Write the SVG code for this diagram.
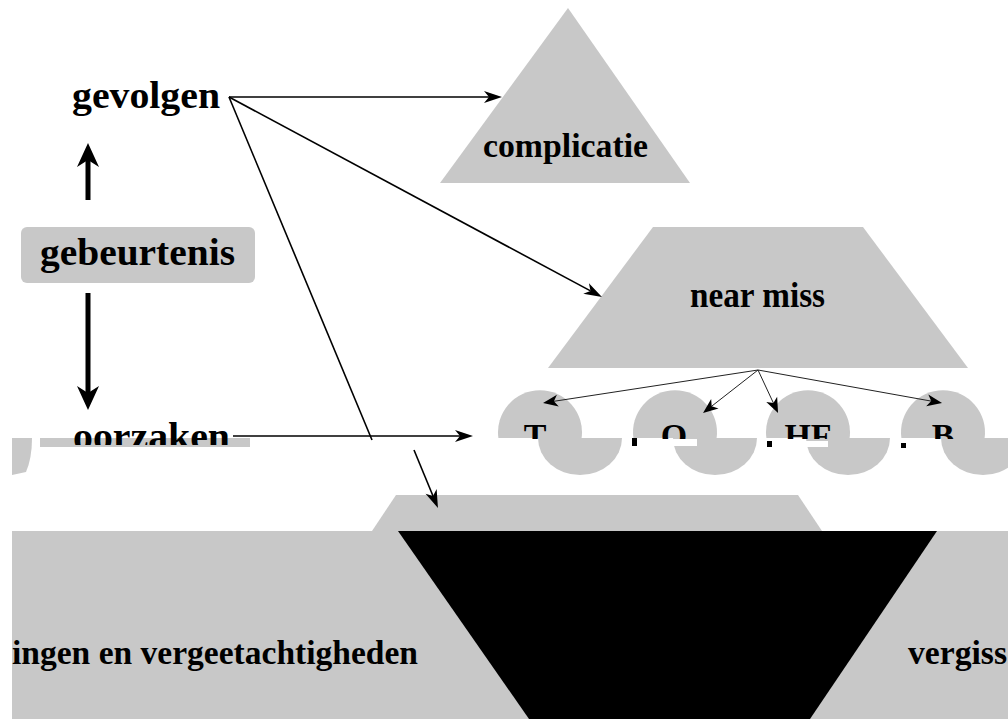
<svg xmlns="http://www.w3.org/2000/svg" width="1008" height="719" viewBox="0 0 1008 719">
<style>
.lbl{font-family:"Liberation Serif","Times New Roman",serif;font-weight:bold;fill:#000}
.shape{fill:#c8c8c8}
.thick{stroke:#000;stroke-width:5;fill:none}
.mid{stroke:#000;stroke-width:1.6;fill:none}
.thin{stroke:#222;stroke-width:1;fill:none}
</style>
<defs>
<marker id="hThick" markerUnits="userSpaceOnUse" orient="auto" refX="7" refY="0" markerWidth="24" markerHeight="22" overflow="visible">
<path d="M24,0 L0,-11 L7,0 L0,11 Z" fill="#000"/>
</marker>
<marker id="hMid" markerUnits="userSpaceOnUse" orient="auto" refX="5" refY="0" markerWidth="18" markerHeight="12" overflow="visible">
<path d="M18,0 L0,-6 L5,0 L0,6 Z" fill="#000"/>
</marker>
<marker id="hThin" markerUnits="userSpaceOnUse" orient="auto" refX="4" refY="0" markerWidth="15" markerHeight="12" overflow="visible">
<path d="M15,0 L0,-6 L4,0 L0,6 Z" fill="#000"/>
</marker>
<clipPath id="cutTop"><rect x="0" y="0" width="1008" height="439"/></clipPath>
<clipPath id="cutOorz"><rect x="0" y="0" width="1008" height="445"/></clipPath>
</defs>

<g id="bottom-band">
<path class="shape" d="M396,495 L798,495 L822,531 L372,531 Z"/>
<rect class="shape" x="12" y="531" width="996" height="188"/>
<path d="M398,531 L937,531 L810,719 L529,719 Z" fill="#000"/>
<text class="lbl" x="12" y="664" font-size="34" textLength="406" lengthAdjust="spacingAndGlyphs">ingen en vergeetachtigheden</text>
<text class="lbl" x="908" y="664" font-size="34" textLength="99" lengthAdjust="spacingAndGlyphs">vergiss</text>
</g>

<g id="complicatie">
<path class="shape" d="M568,8 L690,183 L440,183 Z"/>
<text class="lbl" x="483" y="157" font-size="34" textLength="165" lengthAdjust="spacingAndGlyphs">complicatie</text>
</g>

<g id="near-miss">
<path class="shape" d="M653,227 L863,227 L968,368 L548,368 Z"/>
<text class="lbl" x="690" y="307" font-size="35" textLength="135" lengthAdjust="spacingAndGlyphs">near miss</text>
</g>

<g id="gevolgen">
<text class="lbl" x="72" y="108" font-size="37" textLength="148" lengthAdjust="spacingAndGlyphs">gevolgen</text>
</g>

<g id="gebeurtenis">
<rect class="shape" x="21" y="227" width="234" height="56" rx="6"/>
<text class="lbl" x="40" y="265" font-size="37" textLength="195" lengthAdjust="spacingAndGlyphs">gebeurtenis</text>
</g>

<g id="oorzaken">
<path class="shape" d="M12,438 L32,438 Q32,458 26,472 L12,475 Z"/>
<rect class="shape" x="40" y="438" width="210" height="9"/>
<text class="lbl" x="73" y="449" font-size="37" textLength="157" lengthAdjust="spacingAndGlyphs" clip-path="url(#cutOorz)">oorzaken</text>
</g>

<g id="circle-T">
<path class="shape" d="M498.4,438 A42,42 0 1,1 581.6,438 Z"/>
<path class="shape" d="M538,438 A42,37 0 0,0 622,438 Z"/>
<text class="lbl" x="535" y="447" font-size="34" text-anchor="middle" clip-path="url(#cutTop)">T</text>
</g>
<g id="circle-O">
<path class="shape" d="M633.4,438 A42,42 0 1,1 716.6,438 Z"/>
<path class="shape" d="M673,438 A42,37 0 0,0 757,438 Z"/>
<text class="lbl" x="674" y="447" font-size="34" text-anchor="middle" clip-path="url(#cutTop)">O</text>
<rect x="632" y="438" width="5" height="8" fill="#000"/>
<rect x="637" y="439" width="60" height="7" fill="#fff"/>
</g>
<g id="circle-HF">
<path class="shape" d="M766.4,438 A42,42 0 1,1 849.6,438 Z"/>
<path class="shape" d="M806,438 A42,37 0 0,0 890,438 Z"/>
<text class="lbl" x="808" y="447" font-size="34" text-anchor="middle" clip-path="url(#cutTop)">HF</text>
<rect x="767" y="441" width="5" height="6" fill="#000"/>
<rect x="772" y="441" width="56" height="6" fill="#fff"/>
</g>
<g id="circle-B">
<path class="shape" d="M901.4,438 A42,42 0 1,1 984.6,438 Z"/>
<path class="shape" d="M941,438 A42,37 0 0,0 1025,438 Z"/>
<text class="lbl" x="943" y="447" font-size="34" text-anchor="middle" clip-path="url(#cutTop)">B</text>
<rect x="901" y="443" width="5" height="5" fill="#000"/>
<rect x="906" y="443" width="34" height="5" fill="#fff"/>
</g>

<g id="connectors">
<line class="thick" x1="88" y1="200" x2="88" y2="160" marker-end="url(#hThick)"/>
<line class="thick" x1="88" y1="293" x2="88" y2="393" marker-end="url(#hThick)"/>
<line class="mid" x1="229" y1="97" x2="489" y2="97" marker-end="url(#hMid)"/>
<line class="mid" x1="229" y1="97" x2="590.5" y2="290.9" marker-end="url(#hMid)"/>
<line class="mid" x1="229" y1="97" x2="372" y2="440"/>
<line class="mid" x1="414" y1="450" x2="433" y2="496" marker-end="url(#hMid)"/>
<line class="mid" x1="233" y1="436" x2="460" y2="436" marker-end="url(#hMid)"/>
<line class="thin" x1="758" y1="370" x2="553.9" y2="401.3" marker-end="url(#hThin)"/>
<line class="thin" x1="758" y1="370" x2="711.7" y2="406.2" marker-end="url(#hThin)"/>
<line class="thin" x1="758" y1="370" x2="773.4" y2="403" marker-end="url(#hThin)"/>
<line class="thin" x1="758" y1="370" x2="931.2" y2="401.1" marker-end="url(#hThin)"/>
</g>
</svg>
